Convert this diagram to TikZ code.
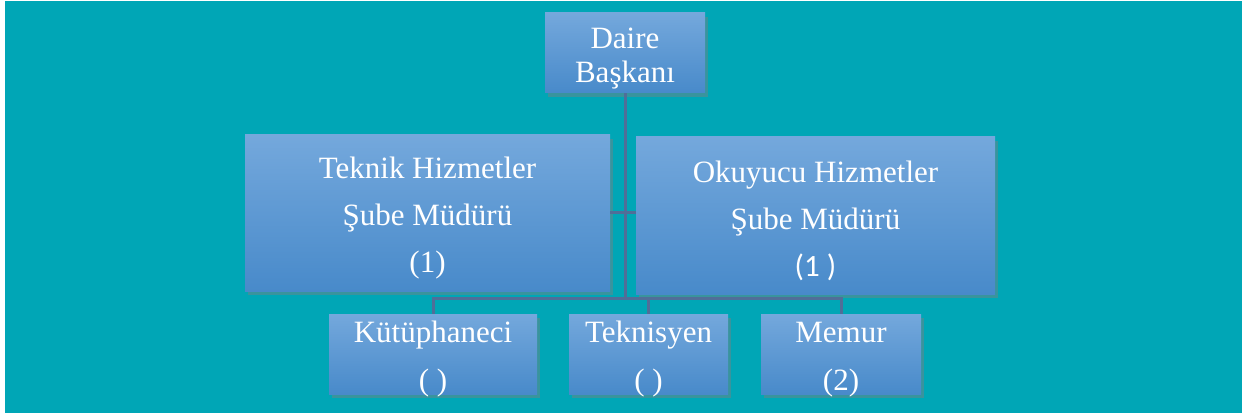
\documentclass[tikz,border=0pt]{standalone}
\usepackage{fontspec}
\setmainfont{Liberation Serif}
\newfontfamily\calibrifont{Carlito}
\usetikzlibrary{shadows}
\newcommand{\topstrut}{\rule{0pt}{32pt}}
\newcommand{\lowstrut}{\rule{0pt}{25pt}}

\begin{document}
\begin{tikzpicture}[x=1pt,y=1pt,yscale=-1,xscale=1,
    unitbox/.style={rectangle, inner sep=0pt, align=center, text=white,
        top color={rgb, 255:red, 116; green, 168; blue, 220},
        bottom color={rgb, 255:red, 72; green, 138; blue, 202},
        drop shadow={shadow xshift=3pt, shadow yshift=-4pt, opacity=0.45},
        font=\fontsize{31}{47}\selectfont},
    smallbox/.style={unitbox, minimum width=#1, minimum height=80, font=\fontsize{31}{48}\selectfont},
    link/.style={line width=3, color={rgb, 255:red, 80; green, 110; blue, 152}}]
        % background
        \fill [white] (0,0) rectangle (1242,414);
        \fill [color={rgb, 255:red, 0; green, 166; blue, 182}] (5,1) rectangle (1242,413);
        % boxes
        \node [unitbox, minimum width=160, minimum height=80, font=\fontsize{31}{34}\selectfont] (daire) at (625,53) {\lowstrut Daire\\\smash{Başkanı}};
        \node [unitbox, minimum width=365, minimum height=156] (teknik) at (427.5,213) {\topstrut Teknik Hizmetler\\Şube Müdürü\\(1)};
        \node [unitbox, minimum width=359, minimum height=157] (okuyucu) at (815.5,215.5) {\topstrut Okuyucu Hizmetler\\Şube Müdürü\\{\calibrifont (1 )}};
        \node [smallbox=208] (kutup) at (433,354) {\lowstrut Kütüphaneci\\\smash{( )}};
        \node [smallbox=159] (teknisyen) at (648.5,354) {\lowstrut Teknisyen\\\smash{( )}};
        \node [smallbox=160] (memur) at (841,354) {\lowstrut Memur\\\smash{(2)}};
        % connectors
        \coordinate (bus) at (625,298);
        \draw [link] (daire.south) -- (bus);
        \draw [link] (teknik.east) -- (okuyucu.west |- teknik.east);
        \draw [link] (kutup.north) |- (bus) -| (memur.north);
        \draw [link] (teknisyen.north) -- (teknisyen.north |- bus);
\end{tikzpicture}
\end{document}
